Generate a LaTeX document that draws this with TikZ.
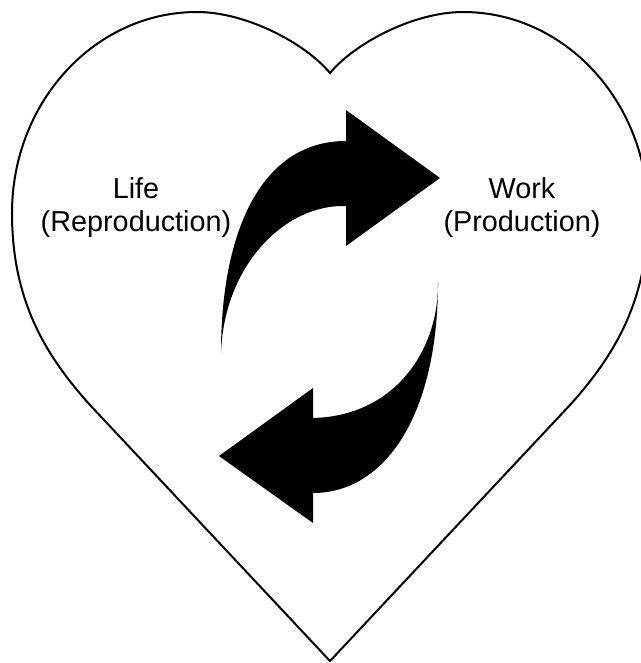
\documentclass[tikz,border=0pt]{standalone}
\usepackage{fontspec}
\setmainfont{Liberation Sans}
\begin{document}
\begin{tikzpicture}[x=0.02cm,y=-0.02cm,
  heartline/.style={draw=black,line width=1.15pt,line join=miter},
  bigarrow/.style={fill=black,draw=none},
  label/.style={align=center,inner sep=0pt,font=\fontsize{16.4}{18.8}\selectfont}]
\useasboundingbox (0,0) rectangle (641,663);
\fill[white] (0,0) rectangle (641,663);
\clip (0,0) rectangle (641,663);
% heart
\draw[heartline] (330,661) -- (90,405)
  .. controls (45,355) and (12,300) .. (12,213)
  .. controls (12,102) and (95,12) .. (197,12)
  .. controls (246,12) and (305,43) .. (330,73)
  .. controls (355,43) and (414,12) .. (463,12)
  .. controls (565,12) and (648,102) .. (648,213)
  .. controls (648,300) and (615,355) .. (570,405)
  -- cycle;
% upper arrow
\fill[bigarrow] (221,353)
  .. controls (221,230) and (262,141) .. (346,141)
  -- (346,110) -- (440,178) -- (346,246) -- (346,206)
  .. controls (285,204) and (224,265) .. (221,353) -- cycle;
% lower arrow
\fill[bigarrow] (438,282)
  .. controls (438,415) and (385,493) .. (313,493)
  -- (313,523) -- (219,456) -- (313,388) -- (313,418)
  .. controls (395,416) and (439,350) .. (438,282) -- cycle;
% labels
\node[label] (life) at (136,208) {Life\\(Reproduction)};
\node[label] (work) at (522,208) {Work\\(Production)};
\end{tikzpicture}
\end{document}
